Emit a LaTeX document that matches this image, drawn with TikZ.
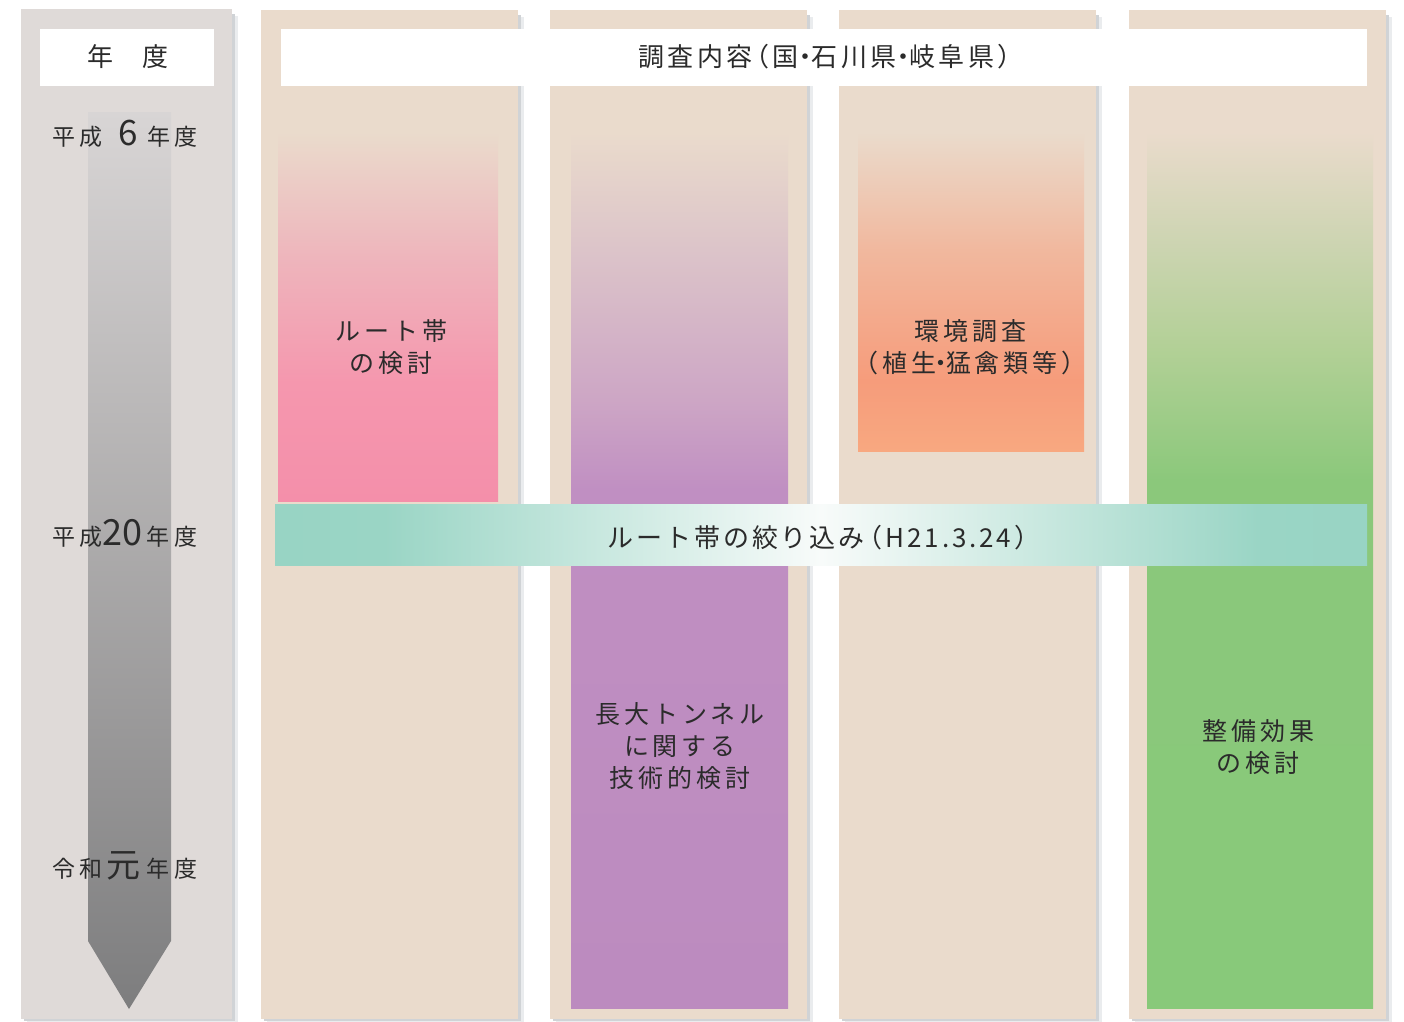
\documentclass[tikz,border=0pt]{standalone}
\usepackage{fontspec}
\newfontfamily\jp{Noto Sans CJK JP}
\newfontfamily\jpA[LetterSpace=11]{Noto Sans CJK JP}
\newfontfamily\jpH[LetterSpace=13]{Noto Sans CJK JP}
\newfontfamily\jpB[LetterSpace=16]{Noto Sans CJK JP}
\newfontfamily\jpC[LetterSpace=20]{Noto Sans CJK JP}
\definecolor{colbg}{HTML}{EADBCC}
\definecolor{leftbg}{HTML}{DFDAD8}
\definecolor{txt}{HTML}{2B2B2B}
\definecolor{shadA}{HTML}{D0D3D6}
\definecolor{shadB}{HTML}{EAECEE}
\definecolor{arrtop}{HTML}{D8D5D5}
\definecolor{arrmid}{HTML}{B2B2B3}
\definecolor{arrbot}{HTML}{7D7D7E}
% pink
\definecolor{pinkB}{HTML}{F48FAA}
\definecolor{pinkM}{HTML}{F597AE}
\definecolor{pinkU}{HTML}{EEB5BC}
\pgfdeclareverticalshading{pinkgrad}{100bp}{color(0bp)=(pinkB); color(25bp)=(pinkB); color(41bp)=(pinkM); color(58bp)=(pinkU); color(75bp)=(colbg); color(100bp)=(colbg)}
% purple
\definecolor{purB}{HTML}{BC8BBF}
\definecolor{purM}{HTML}{C08FC2}
\definecolor{purU}{HTML}{CDA6C5}
\definecolor{purT}{HTML}{DCC4C9}
\pgfdeclareverticalshading{purgrad}{100bp}{color(0bp)=(purB); color(25bp)=(purB); color(54.6bp)=(purM); color(59.7bp)=(purU); color(68.3bp)=(purT); color(75bp)=(colbg); color(100bp)=(colbg)}
% orange
\definecolor{orB}{HTML}{F8A880}
\definecolor{orM}{HTML}{F69C7B}
\definecolor{orU}{HTML}{F1B89E}
\pgfdeclareverticalshading{orgrad}{100bp}{color(0bp)=(orB); color(25bp)=(orB); color(36bp)=(orM); color(56.5bp)=(orU); color(75bp)=(colbg); color(100bp)=(colbg)}
% green
\definecolor{grB}{HTML}{88C97A}
\definecolor{grM}{HTML}{8BC87B}
\definecolor{grU}{HTML}{B2D096}
\definecolor{grT}{HTML}{CBD4B0}
\pgfdeclareverticalshading{grgrad}{100bp}{color(0bp)=(grB); color(25bp)=(grB); color(55.1bp)=(grM); color(62.6bp)=(grU); color(68.3bp)=(grT); color(75bp)=(colbg); color(100bp)=(colbg)}
% teal
\definecolor{tealE}{HTML}{98D4C4}
\definecolor{tealE2}{HTML}{9AD5C5}
\definecolor{tealC}{HTML}{F8FBFA}
\pgfdeclarehorizontalshading{tealgrad}{100bp}{color(0bp)=(tealE); color(25bp)=(tealE); color(30bp)=(tealE2); color(50bp)=(tealC); color(70bp)=(tealE2); color(75bp)=(tealE); color(100bp)=(tealE)}
\newcommand{\myLP}{\kern-0.35em（}
\newcommand{\myLPb}{\kern-0.3em（}
\newcommand{\myMD}{\kern-0.25em・\kern-0.25em}
\newcommand{\myMDc}{\kern-0.3em・\kern-0.3em}
\begin{document}
\begin{tikzpicture}[x=1pt,y=-1pt,
  shadowA/.style={fill=shadA},
  shadowB/.style={fill=shadB},
  colrect/.style={fill=colbg},
  lbl/.style={text=txt,inner sep=0pt,align=center},
  collbl/.style={lbl,font=\jpB\fontsize{25}{32}\selectfont},
  yearlbl/.style={text=txt,inner sep=0pt,anchor=base west,font=\jpC\fontsize{23}{28}\selectfont}]
\useasboundingbox (0,0) rectangle (1404,1021);
\fill[white] (0,0) rectangle (1404,1021);
% shadows
\foreach \xa/\xb/\ya in {21/232/9,261/518/10,550/807/10,839/1096/10,1129/1386/10}{
  \fill[shadowB] (\xa+6,\ya+7) rectangle (\xb+6,1019+4);
  \fill[shadowA] (\xa+3,\ya+5) rectangle (\xb+3,1019+2);
}
% left column
\fill[leftbg] (21,9) rectangle (232,1019);
% content columns
\foreach \xa/\xb in {261/518,550/807,839/1096,1129/1386}{
  \fill[colrect] (\xa,10) rectangle (\xb,1019);
}
% header boxes
\fill[white] (40,29) rectangle (214,86);
\fill[white] (281,29) rectangle (1367,86);
% arrow
\shade[top color=arrtop,middle color=arrmid,bottom color=arrbot]
  (88,112) -- (171,112) -- (171,941) -- (129,1009) -- (88,941) -- cycle;
% inner bars
\shade[shading=pinkgrad] (278,132) rectangle (498,501);
\shade[shading=purgrad] (571,132) rectangle (788,1008);
\shade[shading=orgrad] (858,132) rectangle (1084,451);
\shade[shading=grgrad] (1147,132) rectangle (1373,1008);
% teal band
\shade[shading=tealgrad] (275,504) rectangle (1367,565);
% header texts
\node[lbl,font=\jp\fontsize{26}{30}\selectfont] (hyear) at (128,57) {年\hspace{30pt}度};
\node[lbl,font=\jpH\fontsize{26}{30}\selectfont] (hcont) at (831,57) {調査内容\myLP 国\myMD 石川県\myMD 岐阜県）};
% year labels
\node[yearlbl] (y1) at (52,145) {平成\hspace{16pt}{\jp\fontsize{35}{35}\selectfont 6}\hspace{9pt}年度};
\node[yearlbl] (y2) at (52,545) {平成{\jp\fontsize{36}{36}\selectfont 20}\hspace{4pt}年度};
\node[yearlbl] (y3) at (52,877) {令和\hspace{4pt}{\jp\fontsize{34}{34}\selectfont 元}\hspace{6pt}年度};
% column labels
\node[collbl] (c1) at (391,347) {ルート帯\\の検討};
\node[collbl] (c2) at (680,746) {長大トンネル\\に関する\\技術的検討};
\node[collbl] (c3) at (970,347) {環境調査\\（植生\myMDc 猛禽類等）};
\node[collbl] (c4) at (1258,747) {整備効果\\の検討};
\node[lbl,font=\jpA\fontsize{26}{30}\selectfont] (band) at (824,538) {ルート帯の絞り込み\myLPb H21.3.24）};
\end{tikzpicture}
\end{document}
